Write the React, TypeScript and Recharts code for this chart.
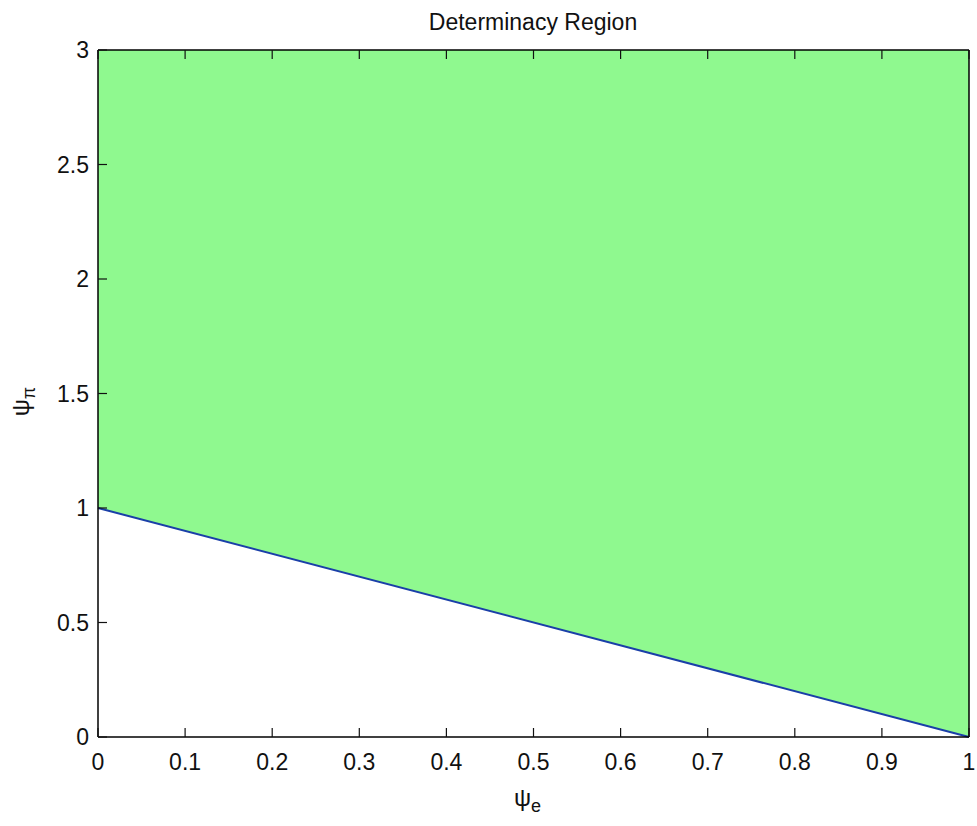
import { ComposedChart, Area, Line, XAxis, YAxis, Label } from 'recharts';

// psi_e values along the boundary
const psiE = [0, 1];
// boundary of the determinacy region: psi_pi = 1 - psi_e
const psiPiBoundary = [1, 0];
// top of the plotted region
const psiPiTop = [3, 3];

const xTicks = [0, 0.1, 0.2, 0.3, 0.4, 0.5, 0.6, 0.7, 0.8, 0.9, 1];
const yTicks = [0, 0.5, 1, 1.5, 2, 2.5, 3];

const data = psiE.map((x, i) => ({
    x,
    boundary: psiPiBoundary[i],
    region: [psiPiBoundary[i], psiPiTop[i]],
}));

const FONT = '"Liberation Sans", Arial, sans-serif';
const TICK_LEN = 9;
const tickColor = '#111';
const W = 977;
const H = 826;

const BottomTick = (props: any) => {
    const { x, y, payload } = props;
    return (
        <g>
            <line x1={x} y1={y} x2={x} y2={y - TICK_LEN} stroke={tickColor} strokeWidth={1.2} />
            <text x={x} y={y + 33} textAnchor="middle" fontSize={23} fontFamily={FONT} fill="#111">
                {String(payload.value)}
            </text>
        </g>
    );
};

const TopTick = (props: any) => {
    const { x, y } = props;
    return <line x1={x} y1={y} x2={x} y2={y + TICK_LEN} stroke={tickColor} strokeWidth={1.2} />;
};

const LeftTick = (props: any) => {
    const { x, y, payload } = props;
    return (
        <g>
            <line x1={x} y1={y} x2={x + TICK_LEN} y2={y} stroke={tickColor} strokeWidth={1.2} />
            <text x={x - 9} y={y + 8} textAnchor="end" fontSize={23} fontFamily={FONT} fill="#111">
                {String(payload.value)}
            </text>
        </g>
    );
};

const RightTick = (props: any) => {
    const { x, y } = props;
    return <line x1={x} y1={y} x2={x - TICK_LEN} y2={y} stroke={tickColor} strokeWidth={1.2} />;
};

const XLabel = (props: any) => {
    const { viewBox } = props;
    const cx = viewBox.x + viewBox.width / 2;
    return (
        <text x={cx - 6} y={806} textAnchor="middle" fontSize={24} fontFamily={FONT} fill="#111">
            ψ<tspan fontSize={18} dy={6}>e</tspan>
        </text>
    );
};

const YLabel = (props: any) => {
    const { viewBox } = props;
    const cy = viewBox.y + viewBox.height / 2;
    return (
        <text
            x={0}
            y={0}
            transform={`translate(29, ${cy + 8}) rotate(-90)`}
            textAnchor="middle"
            fontSize={24}
            fontFamily={FONT}
            fill="#111"
        >
            ψ<tspan fontSize={18} dy={6}>π</tspan>
        </text>
    );
};

const layer: any = { position: 'absolute', left: 0, top: 0 };

export default function App() {
    return (
        <div style={{ position: 'absolute', left: 0, top: 0, width: W, height: H, background: '#fff' }}>
            {/* filled region underneath */}
            <div style={layer}>
                <ComposedChart
                    width={W}
                    height={H}
                    data={data}
                    margin={{ top: 50, right: 8, bottom: 89, left: 98 }}
                >
                    <XAxis dataKey="x" type="number" domain={[0, 1]} hide />
                    <YAxis type="number" domain={[0, 3]} hide />
                    <Area
                        type="linear"
                        dataKey="region"
                        fill="#8ff98f"
                        fillOpacity={1}
                        stroke="none"
                        isAnimationActive={false}
                    />
                </ComposedChart>
            </div>
            {/* boundary line, box and ticks on top */}
            <div style={layer}>
                <ComposedChart
                    width={W}
                    height={H}
                    data={data}
                    margin={{ top: 49, right: 7, bottom: 0, left: 0 }}
                >
                    <XAxis
                        xAxisId="bottom"
                        dataKey="x"
                        type="number"
                        domain={[0, 1]}
                        ticks={xTicks}
                        height={89}
                        tickSize={0}
                        tickMargin={0}
                        tickLine={false}
                        axisLine={{ stroke: '#000', strokeWidth: 1.5 }}
                        tick={BottomTick}
                        interval={0}
                    >
                        <Label content={XLabel} />
                    </XAxis>
                    <XAxis
                        xAxisId="top"
                        orientation="top"
                        dataKey="x"
                        type="number"
                        domain={[0, 1]}
                        ticks={xTicks}
                        height={1}
                        tickSize={0}
                        tickMargin={0}
                        tickLine={false}
                        axisLine={{ stroke: '#000', strokeWidth: 1.5 }}
                        tick={TopTick}
                        interval={0}
                    />
                    <YAxis
                        yAxisId="left"
                        type="number"
                        domain={[0, 3]}
                        ticks={yTicks}
                        width={98}
                        tickSize={0}
                        tickMargin={0}
                        tickLine={false}
                        axisLine={{ stroke: '#000', strokeWidth: 1.5 }}
                        tick={LeftTick}
                        interval={0}
                    >
                        <Label content={YLabel} />
                    </YAxis>
                    <YAxis
                        yAxisId="right"
                        orientation="right"
                        type="number"
                        domain={[0, 3]}
                        ticks={yTicks}
                        width={1}
                        tickSize={0}
                        tickMargin={0}
                        tickLine={false}
                        axisLine={{ stroke: '#000', strokeWidth: 1.5 }}
                        tick={RightTick}
                        interval={0}
                    />
                    <Line
                        xAxisId="bottom"
                        yAxisId="left"
                        type="linear"
                        dataKey="boundary"
                        stroke="#1a3fa8"
                        strokeWidth={2}
                        dot={false}
                        activeDot={false}
                        isAnimationActive={false}
                    />
                    <text x={533} y={30} textAnchor="middle" fontSize={23} fontFamily={FONT} fill="#111">
                        Determinacy Region
                    </text>
                </ComposedChart>
            </div>
        </div>
    );
}
